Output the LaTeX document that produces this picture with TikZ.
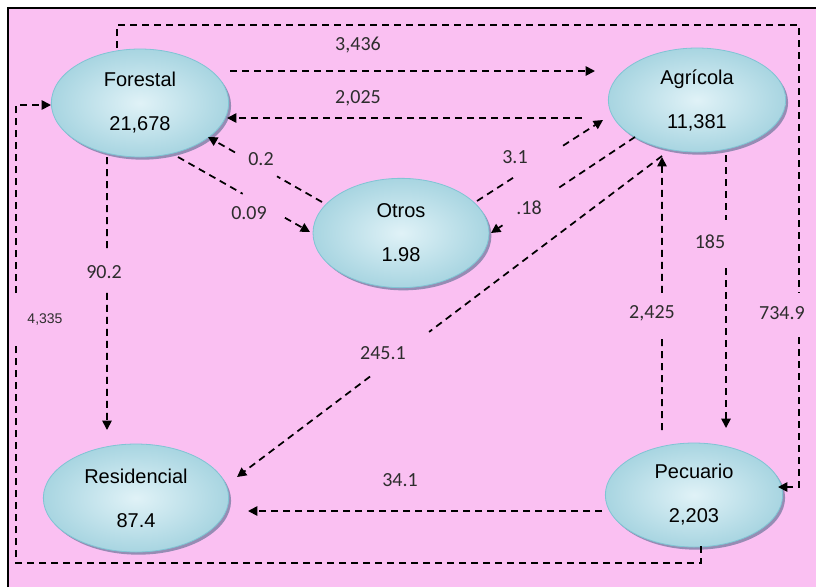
\documentclass[tikz,border=0pt]{standalone}
\usepackage{fontspec}
\newfontfamily\nodefont{Liberation Sans}
\newfontfamily\labfont{Carlito}
\usetikzlibrary{shapes.geometric,shadows,arrows.meta,calc}
\definecolor{bgpink}{RGB}{250,192,242}
\definecolor{ellin}{RGB}{224,242,247}
\definecolor{ellout}{RGB}{168,213,225}
\definecolor{ellborder}{RGB}{128,196,212}
\definecolor{shadowc}{RGB}{150,140,180}
\definecolor{labc}{RGB}{45,45,45}
\begin{document}
\begin{tikzpicture}[x=0.75pt,y=-0.75pt,
  sector/.style={ellipse, draw=ellborder, line width=0.6pt, shading=radial,
    inner color=ellin, outer color=ellout, inner sep=0pt, align=center,
    font=\nodefont\fontsize{15}{18}\selectfont,
    drop shadow={shadow xshift=1.8pt,shadow yshift=-2pt,fill=shadowc,opacity=1}},
  flow/.style={line width=1.3pt, dash pattern=on 5.25pt off 3.75pt,
    -{Triangle[length=7pt,width=7pt]}},
  lab/.style={font=\labfont\fontsize{15}{18}\selectfont, text=labc, inner sep=0pt},
  smalllab/.style={font=\nodefont\fontsize{10.5}{12}\selectfont, text=labc, inner sep=0pt}
]
\useasboundingbox (0,0) rectangle (816,587);
\fill[white] (0,0) rectangle (816,587);
\fill[bgpink] (8,8) rectangle (816,587);
\draw[line width=1.5pt] (8,587) -- (8,8) -- (816,8);

% sectors
\node[sector, minimum width=133pt, minimum height=81pt] (forestal) at (140,103) {Forestal\\[15pt]21,678};
\node[sector, minimum width=133pt, minimum height=78pt] (agricola) at (697,100) {Agrícola\\[15pt]11,381};
\node[sector, minimum width=132pt, minimum height=82pt] (otros) at (401,233) {Otros\\[15pt]1.98};
\node[sector, minimum width=139pt, minimum height=81pt] (residencial) at (136,498) {Residencial\\[15pt]87.4};
\node[sector, minimum width=133pt, minimum height=78pt] (pecuario) at (694,495) {Pecuario\\[15pt]2,203};

% endpoints
\coordinate (s1) at ($(forestal)+(90,-32)$);
\coordinate (e1) at ($(agricola)+(-102,-29)$);
\coordinate (s2) at ($(agricola)+(-115,18)$);
\coordinate (e2) at ($(forestal)+(87,15)$);
\coordinate (s3) at ($(otros)+(-79,-31)$);
\coordinate (e3) at ($(forestal)+(68,34)$);
\coordinate (s4) at ($(forestal)+(38,54)$);
\coordinate (e4) at ($(otros)+(-91,-1)$);
\coordinate (s5) at ($(otros)+(76,-32)$);
\coordinate (e5) at ($(agricola)+(-94,20)$);
\coordinate (s6) at ($(agricola)+(-62,37)$);
\coordinate (e6) at ($(otros)+(90,0)$);
\coordinate (s7) at ($(pecuario)+(-32,-65)$);
\coordinate (e7) at ($(agricola)+(-35,57)$);
\coordinate (s8) at ($(agricola)+(29,55)$);
\coordinate (e8) at ($(pecuario)+(32,-67)$);
\coordinate (s9) at ($(forestal)+(-23,-55)$);
\coordinate (e9) at ($(pecuario)+(84,-8)$);
\coordinate (s10) at ($(agricola)+(-35,56)$);
\coordinate (e10) at ($(residencial)+(101,-21)$);
\coordinate (s11) at ($(forestal)+(-33,54)$);
\coordinate (e11) at ($(residencial)+(-29,-68)$);
\coordinate (s12) at ($(pecuario)+(-92,16)$);
\coordinate (e12) at ($(residencial)+(112,13)$);
\coordinate (s13) at ($(pecuario)+(7,51)$);
\coordinate (e13) at ($(forestal)+(-89,2)$);

% connectors
\draw[flow] (s1) -- (e1);
\draw[flow] (s2) -- (e2);
\draw[flow] (s3) -- ($(s3)!0.395!(e3)$) ($(s3)!0.763!(e3)$) -- (e3);
\draw[flow] (s4) -- ($(s4)!0.49!(e4)$) ($(s4)!0.81!(e4)$) -- (e4);
\draw[flow] (s5) -- ($(s5)!0.286!(e5)$) ($(s5)!0.683!(e5)$) -- (e5);
\draw[flow] (s6) -- ($(s6)!0.54!(e6)$) ($(s6)!0.92!(e6)$) -- (e6);
\draw[flow] (s7) -- ($(s7)!0.34!(e7)$) ($(s7)!0.502!(e7)$) -- (e7);
\draw[flow] (s8) -- ($(s8)!0.238!(e8)$) ($(s8)!0.414!(e8)$) -- (e8);
\draw[flow] (s9) |- (799,25) -- (799,293) (799,337) -- (799,487) -- (e9);
\draw[flow] (s10) -- ($(s10)!0.548!(e10)$) ($(s10)!0.687!(e10)$) -- (e10);
\draw[flow] (s11) -- ($(s11)!0.34!(e11)$) ($(s11)!0.498!(e11)$) -- (e11);
\draw[flow] (s12) -- (e12);
\draw[flow] (s13) |- (16,563) -- (16,342) (16,293) -- (16,105) -- (e13);

% labels
\node[lab] (l1) at (358,45) {3,436};
\node[lab] (l2) at (358,98) {2,025};
\node[lab] (l3) at (261,159) {0.2};
\node[lab] (l4) at (249,213) {0.09};
\node[lab] (l5) at (515,157) {3.1};
\node[lab] (l6) at (529,208) {.18};
\node[lab] (l7) at (652,313) {2,425};
\node[lab] (l8) at (710,242) {185};
\node[lab] (l9) at (782,313) {734.9};
\node[lab] (l10) at (383,353) {245.1};
\node[lab] (l11) at (104,272) {90.2};
\node[lab] (l12) at (400,480) {34.1};
\node[smalllab] (l13) at (45,319) {4,335};
\end{tikzpicture}
\end{document}
